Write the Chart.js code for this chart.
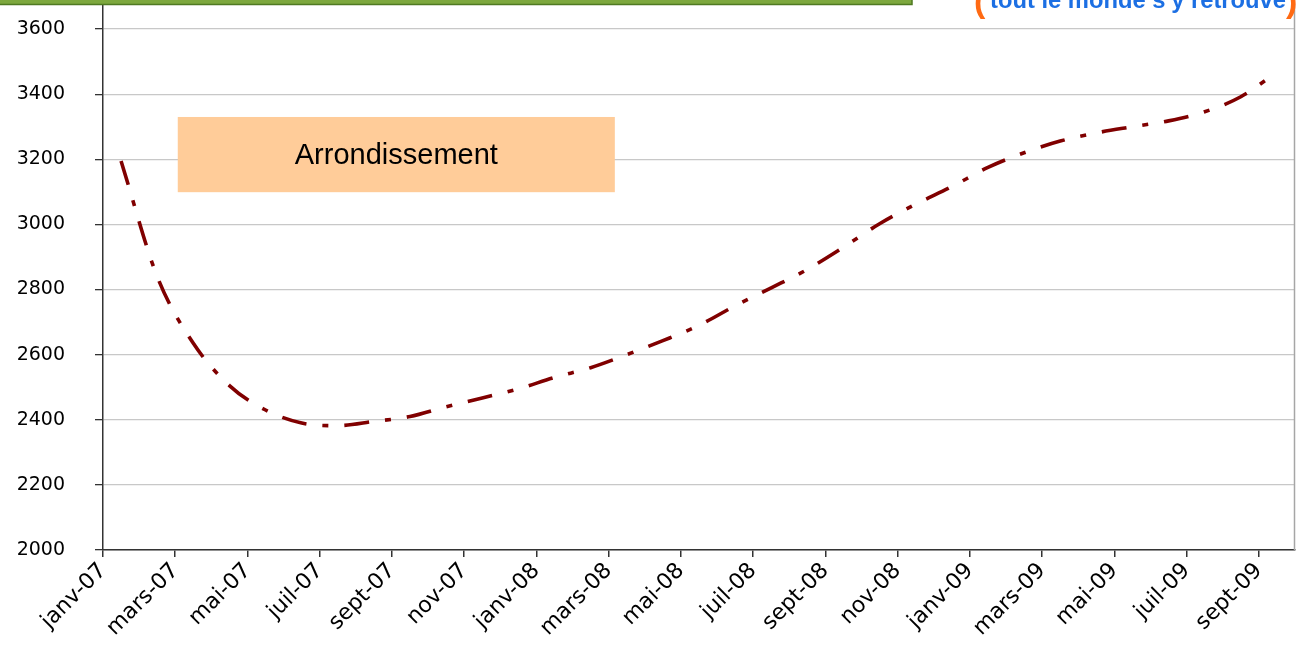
<!DOCTYPE html>
<html>
<head>
<meta charset="utf-8">
<script src="https://cdn.jsdelivr.net/npm/chart.js@4.4.1/dist/chart.umd.min.js"></script>
<style>
  html, body { margin: 0; padding: 0; background: #fff; }
  #wrap { width: 1296px; height: 645px; }
</style>
</head>
<body>
<div id="wrap"><canvas id="myLineChart"></canvas></div>
<script>
// Data
const months = [
  'janv-07', 'févr-07', 'mars-07', 'avr-07', 'mai-07', 'juin-07',
  'juil-07', 'août-07', 'sept-07', 'oct-07', 'nov-07', 'déc-07',
  'janv-08', 'févr-08', 'mars-08', 'avr-08', 'mai-08', 'juin-08',
  'juil-08', 'août-08', 'sept-08', 'oct-08', 'nov-08', 'déc-08',
  'janv-09', 'févr-09', 'mars-09', 'avr-09', 'mai-09', 'juin-09',
  'juil-09', 'août-09', 'sept-09',
];
const values = [
  3195, 2840, 2635, 2505, 2430, 2390, 2382, 2395, 2410, 2440, 2467, 2495,
  2530, 2560, 2600, 2643, 2690, 2750, 2805, 2862, 2930, 3002, 3062, 3116,
  3175, 3220, 3256, 3281, 3300, 3318, 3346, 3392, 3468,
];
const yTicks = [2000, 2200, 2400, 2600, 2800, 3000, 3200, 3400, 3600];
const boxLabel = 'Arrondissement';
const bannerText = "tout le monde s'y retrouve";

const FONT = "'Liberation Sans', Arial, sans-serif";
const AXIS_FONT = "'DejaVu Sans', sans-serif";

// Draws the frame, the label box and the cut-off header bits
const decorPlugin = {
  id: 'decor',
  beforeDatasetsDraw(chart) {
    const { ctx, chartArea, scales } = chart;
    ctx.save();
    // right border of the plot
    ctx.strokeStyle = '#a6a6a6';
    ctx.lineWidth = 1.5;
    ctx.beginPath();
    ctx.moveTo(chartArea.right - 0.5, chartArea.top);
    ctx.lineTo(chartArea.right - 0.5, chartArea.bottom);
    ctx.stroke();

    // label box
    const x1 = scales.x.getPixelForValue(1.57);
    const x2 = scales.x.getPixelForValue(13.67);
    const y1 = scales.y.getPixelForValue(3330);
    const y2 = scales.y.getPixelForValue(3099);
    ctx.fillStyle = '#ffcc99';
    ctx.fillRect(x1, y1, x2 - x1, y2 - y1);
    ctx.fillStyle = '#000';
    ctx.font = '29px ' + FONT;
    ctx.textAlign = 'center';
    ctx.textBaseline = 'middle';
    ctx.fillText(boxLabel, (x1 + x2) / 2, (y1 + y2) / 2 + 1);
    ctx.restore();
  },
  afterDraw(chart) {
    const { ctx } = chart;
    ctx.save();
    // green title bar, only its bottom edge shows
    ctx.fillStyle = '#7da83e';
    ctx.fillRect(0, 0, 912, 4);
    ctx.strokeStyle = '#4f7a22';
    ctx.lineWidth = 1.5;
    ctx.beginPath();
    ctx.moveTo(0, 4.5);
    ctx.lineTo(912, 4.5);
    ctx.lineTo(912, 0);
    ctx.stroke();

    // blue slogan, cut at the top
    ctx.fillStyle = '#1c6fe3';
    ctx.font = 'bold 24px ' + FONT;
    ctx.textAlign = 'left';
    ctx.textBaseline = 'alphabetic';
    ctx.fillText(bannerText, 990, 8, 296);
    ctx.fillStyle = '#ff6a13';
    ctx.font = 'bold 34px ' + FONT;
    ctx.fillText('(', 974, 12);
    ctx.fillText(')', 1286, 12);
    ctx.restore();
  },
};

const ctx = document.getElementById('myLineChart').getContext('2d');

const myLineChart = new Chart(ctx, {
  type: 'line',
  data: {
    datasets: [
      {
        data: values.map((v, i) => ({ x: i, y: v })),
        borderColor: '#800000',
        borderWidth: 3.6,
        borderDash: [25, 16, 6, 16],
        borderCapStyle: 'butt',
        pointRadius: 0,
        cubicInterpolationMode: 'monotone',
        fill: false,
      },
    ],
  },
  options: {
    responsive: true,
    maintainAspectRatio: false,
    animation: false,
    layout: {
      padding: { top: 4, right: 1, left: 0, bottom: 0 },
    },
    plugins: {
      legend: { display: false },
      tooltip: { enabled: false },
    },
    scales: {
      x: {
        type: 'linear',
        min: -0.5,
        max: months.length - 0.5,
        // one tick every two months, on the month boundary
        afterBuildTicks: (scale) => {
          scale.ticks = months
            .map((m, i) => i)
            .filter((i) => i % 2 === 0)
            .map((i) => ({ value: i - 0.5 }));
        },
        afterFit: (scale) => {
          scale.height = 95;
        },
        grid: {
          drawOnChartArea: false,
          drawTicks: true,
          tickLength: 7,
          tickColor: '#333',
          lineWidth: 1.5,
        },
        border: { color: '#333', width: 1.5 },
        ticks: {
          autoSkip: false,
          minRotation: 45,
          maxRotation: 45,
          padding: 1,
          color: '#000',
          font: { family: AXIS_FONT, size: 22 },
          callback: (value) => months[Math.round(value + 0.5)],
        },
      },
      y: {
        min: 2000,
        max: 3677,
        afterBuildTicks: (scale) => {
          scale.ticks = yTicks.map((v) => ({ value: v }));
        },
        afterFit: (scale) => {
          scale.width = 103;
          scale.paddingTop = 0;
          scale.paddingBottom = 0;
        },
        grid: {
          color: '#c8c8c8',
          lineWidth: 1.3,
          tickColor: '#333',
          tickLength: 8,
        },
        border: { color: '#333', width: 1.5 },
        ticks: {
          padding: 30,
          color: '#000',
          font: { family: AXIS_FONT, size: 19 },
          callback: (value) => String(value),
        },
      },
    },
  },
  plugins: [decorPlugin],
});
</script>
</body>
</html>
